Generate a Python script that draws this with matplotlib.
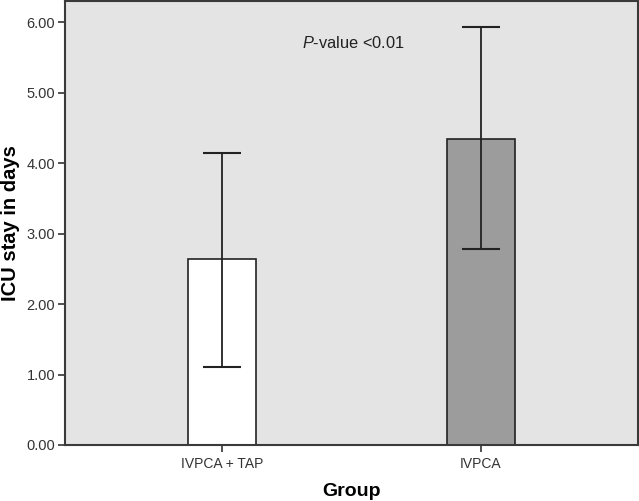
import numpy as np
import matplotlib.pyplot as plt

plt.rcParams['font.family'] = 'Liberation Sans'
plt.rcParams['mathtext.fontset'] = 'custom'
plt.rcParams['mathtext.rm'] = 'Liberation Sans'
plt.rcParams['mathtext.it'] = 'Liberation Sans:italic'

groups = ['IVPCA + TAP', 'IVPCA']
means = [2.64, 4.34]
upper = [4.15, 5.93]
lower = [1.11, 2.78]
colors = ['white', '#9c9c9c']
yticks = [0, 1, 2, 3, 4, 5, 6]

def main():
    fig = plt.figure(figsize=(6.39, 5.01), dpi=100)
    ax = fig.add_axes([65/639, 56/501, 573/639, 444/501])
    ax.set_facecolor('#e4e4e4')

    x = np.arange(len(groups))
    m = np.array(means)
    err = [m - np.array(lower), np.array(upper) - m]
    ax.bar(x, m, width=0.263, color=colors, edgecolor='#222222', linewidth=1.2, zorder=2)
    ax.errorbar(x, m, yerr=err, fmt='none', ecolor='#222222', elinewidth=1.3,
                capsize=14, capthick=1.5, zorder=3)

    ax.set_xlim(-0.608, 1.607)
    ax.set_ylim(0, 6.3)
    ax.set_xticks(x)
    ax.set_xticklabels(groups, fontsize=10)
    ax.set_yticks(yticks)
    ax.set_yticklabels(['%.2f' % v for v in yticks], fontsize=10.5)
    ax.tick_params(direction='out', length=5, width=1.2, color='#333333',
                   labelcolor='#333333', pad=2)
    ax.tick_params(axis='x', pad=4)
    for s in ax.spines.values():
        s.set_color('#3a3a3a')
        s.set_linewidth(1.5)

    ax.set_xlabel('Group', fontsize=14, fontweight='bold')
    ax.set_ylabel('ICU stay in days', fontsize=14.5, fontweight='bold')
    ax.xaxis.set_label_coords(0.5, -0.085)
    ax.yaxis.set_label_coords(-0.079, 0.5)
    ax.text(0.308, 5.70, '$P$-value <0.01', fontsize=11.8, va='center', ha='left', color='#222222')

    fig.savefig('out.png', dpi=100)

if __name__ == '__main__':
    main()
